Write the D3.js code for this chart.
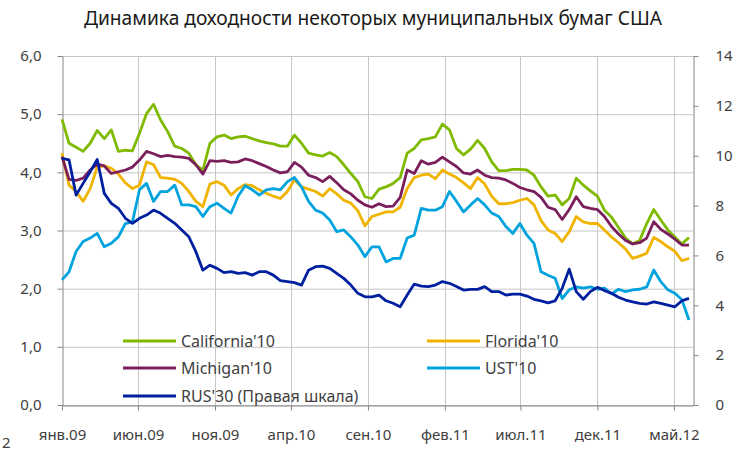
<!DOCTYPE html>
<html>
<head>
<meta charset="utf-8">
<script src="https://cdn.jsdelivr.net/npm/d3@7"></script>
<style>
  body { margin: 0; background: #fff; }
  text { font-family: "Noto Sans", "Open Sans", sans-serif; fill: #404040; }
</style>
</head>
<body>
<div id="container"></div>
<script>
const width = 755,
  height = 454,
  margin = { top: 56, bottom: 49, left: 62, right: 62 }

// ДАННЫЕ (каждые 2 недели с 01.01.2009)
const california = [4.91,4.50,4.43,4.36,4.50,4.72,4.58,4.73,4.36,4.38,4.37,4.67,5.01,5.17,4.90,4.70,4.45,4.41,4.33,4.13,4.04,4.50,4.61,
  4.64,4.58,4.61,4.62,4.58,4.54,4.51,4.49,4.45,4.45,4.64,4.50,4.33,4.30,4.28,4.34,4.27,4.13,3.98,3.84,3.58,3.55,
  3.71,3.75,3.81,3.91,4.33,4.41,4.56,4.58,4.61,4.83,4.73,4.41,4.30,4.40,4.55,4.41,4.18,4.03,4.03,4.05,4.05,4.04,3.95,
  3.75,3.59,3.61,3.44,3.55,3.90,3.78,3.68,3.59,3.35,3.23,3.05,2.87,2.77,2.83,3.12,3.36,3.18,3.01,2.89,2.77,2.88]

const florida = [4.33,3.78,3.67,3.50,3.72,4.09,4.11,4.07,3.97,3.82,3.72,3.78,4.18,4.13,3.91,3.90,3.88,3.81,3.67,3.50,3.41,3.80,3.84,
  3.78,3.61,3.72,3.79,3.77,3.70,3.64,3.59,3.55,3.67,3.87,3.75,3.71,3.67,3.59,3.72,3.63,3.52,3.47,3.34,3.08,3.24,
  3.28,3.32,3.32,3.40,3.72,3.91,3.95,3.97,3.89,4.04,3.97,3.91,3.82,3.72,3.91,3.80,3.59,3.46,3.46,3.48,3.52,3.55,3.44,
  3.17,3.01,2.95,2.81,2.98,3.24,3.15,3.12,3.12,3.01,2.89,2.79,2.68,2.52,2.56,2.61,2.88,2.81,2.72,2.64,2.48,2.52]

const michigan = [4.27,3.88,3.86,3.90,4.04,4.14,4.11,3.98,4.01,4.04,4.09,4.21,4.36,4.32,4.27,4.29,4.27,4.26,4.24,4.13,3.97,4.20,4.19,
  4.20,4.17,4.18,4.23,4.20,4.15,4.10,4.04,3.99,4.01,4.17,4.09,3.95,3.91,3.84,3.93,3.82,3.70,3.63,3.52,3.44,3.40,
  3.46,3.41,3.42,3.57,4.04,3.98,4.20,4.14,4.17,4.26,4.18,4.10,3.99,3.97,4.04,3.95,3.91,3.90,3.87,3.81,3.74,3.70,3.67,
  3.57,3.40,3.36,3.19,3.36,3.58,3.41,3.38,3.36,3.24,3.07,2.94,2.83,2.77,2.79,2.87,3.15,3.02,2.94,2.85,2.75,2.75]

const ust = [2.15,2.29,2.64,2.81,2.87,2.95,2.72,2.78,2.89,3.12,3.15,3.70,3.81,3.50,3.67,3.67,3.78,3.44,3.44,3.41,3.24,3.41,3.47,
  3.38,3.30,3.59,3.77,3.70,3.61,3.70,3.72,3.70,3.84,3.91,3.75,3.50,3.35,3.30,3.18,2.98,3.01,2.89,2.75,2.55,2.72,
  2.72,2.46,2.52,2.52,2.87,2.92,3.38,3.35,3.35,3.41,3.67,3.50,3.32,3.44,3.55,3.44,3.30,3.24,3.07,2.95,3.12,2.92,2.78,
  2.29,2.23,2.18,1.83,1.98,2.03,2.01,2.03,1.99,2.01,1.91,1.99,1.95,1.98,1.99,2.03,2.32,2.12,1.98,1.92,1.81,1.46]

// правая шкала
const rus30 = [9.89,9.83,8.42,8.89,9.36,9.85,8.49,8.09,7.89,7.49,7.29,7.49,7.62,7.82,7.69,7.49,7.29,7.02,6.75,6.15,5.41,5.61,5.48,
  5.31,5.35,5.28,5.31,5.21,5.35,5.35,5.21,4.99,4.95,4.91,4.81,5.41,5.55,5.57,5.48,5.28,5.08,4.81,4.48,4.34,4.34,
  4.41,4.18,4.08,3.94,4.41,4.85,4.77,4.75,4.81,4.95,4.88,4.75,4.61,4.64,4.64,4.75,4.55,4.55,4.41,4.45,4.45,4.37,4.24,
  4.18,4.10,4.18,4.68,5.45,4.55,4.24,4.55,4.72,4.59,4.48,4.32,4.21,4.14,4.08,4.05,4.14,4.08,4.01,3.94,4.18,4.28]

const tickLabels = ["янв.09", "июн.09", "ноя.09", "апр.10", "сен.10", "фев.11", "июл.11", "дек.11", "май.12"]
const seriesNames = ["California'10", "Florida'10", "Michigan'10", "UST'10", "RUS'30 (Правая шкала)"]
const colors = ["#7fba00", "#f0b400", "#7a1f5c", "#00a3dd", "#00209f"]

const start = new Date(2009, 0, 1)
const dates = california.map((d, i) => d3.timeDay.offset(start, 14 * i))
const tickDates = tickLabels.map((d, i) => d3.timeMonth.offset(start, 5 * i))

const series = [california, florida, michigan, ust, rus30].map((vals, k) => ({
  name: seriesNames[k],
  color: colors[k],
  right: k === 4,
  values: vals.map((v, i) => ({ date: dates[i], value: v }))
}))

// SCALES
const xScale = d3.scaleTime()
  .domain([start, new Date(2012, 5, 8)])
  .range([margin.left, width - margin.right])

const yLeft = d3.scaleLinear()
  .domain([0, 6])
  .range([height - margin.bottom, margin.top])

const yRight = d3.scaleLinear()
  .domain([0, 14])
  .range([height - margin.bottom, margin.top])

const svg = d3.select("#container")
  .append("svg")
  .attr("width", width)
  .attr("height", height)

// title
svg.append("text")
  .attr("x", 373)
  .attr("y", 25)
  .attr("text-anchor", "middle")
  .attr("textLength", 578)
  .attr("lengthAdjust", "spacingAndGlyphs")
  .style("font-size", "19px")
  .style("fill", "#1a1a1a")
  .text("Динамика доходности некоторых муниципальных бумаг США")

// GRID
svg.append("g")
  .selectAll("line")
  .data(yLeft.ticks(6))
  .join("line")
  .attr("x1", margin.left)
  .attr("x2", width - margin.right)
  .attr("y1", d => yLeft(d) + 0.5)
  .attr("y2", d => yLeft(d) + 0.5)
  .attr("stroke", "#c6c6c6")

svg.append("g")
  .selectAll("line")
  .data(tickDates.slice(1))
  .join("line")
  .attr("x1", d => Math.round(xScale(d)) + 0.5)
  .attr("x2", d => Math.round(xScale(d)) + 0.5)
  .attr("y1", margin.top)
  .attr("y2", height - margin.bottom)
  .attr("stroke", "#c6c6c6")

// AXES
const fmt = d => d3.format(".1f")(d).replace(".", ",")

const leftAxis = svg.append("g")
  .attr("transform", `translate(${margin.left + 0.5},0)`)
  .call(d3.axisLeft(yLeft).ticks(6).tickFormat(fmt).tickSize(5).tickSizeOuter(0).tickPadding(16))

const rightAxis = svg.append("g")
  .attr("transform", `translate(${width - margin.right + 0.5},0)`)
  .call(d3.axisRight(yRight).tickValues(d3.range(0, 15, 2)).tickSize(5).tickSizeOuter(0).tickPadding(17))

const xAxis = svg.append("g")
  .attr("transform", `translate(0,${height - margin.bottom + 0.5})`)
  .call(d3.axisBottom(xScale).tickValues(tickDates).tickFormat((d, i) => tickLabels[i]).tickSize(5).tickSizeOuter(0).tickPadding(19))

;[leftAxis, rightAxis, xAxis].forEach(a => {
  a.select(".domain").attr("stroke", "#868686")
  a.selectAll(".tick line").attr("stroke", "#868686")
  a.selectAll(".tick text")
    .style("font-family", "\"Noto Sans\", sans-serif")
    .style("font-size", "15px")
    .attr("fill", "#404040")
})

// cut-off label at left edge
svg.append("text")
  .attr("x", 2)
  .attr("y", 448)
  .style("font-size", "15px")
  .text("2")

// LINES
const lineGen = d3.line()
  .x(d => xScale(d.date))

svg.selectAll(".line")
  .data(series)
  .join("path")
  .attr("class", "line")
  .attr("fill", "none")
  .attr("stroke", d => d.color)
  .attr("stroke-width", 2.8)
  .attr("stroke-linejoin", "round")
  .attr("d", d => lineGen.y(p => d.right ? yRight(p.value) : yLeft(p.value))(d.values))

// LEGEND
const legendPos = [[123, 341], [427, 341], [123, 368], [427, 368], [123, 396]]

const legend = svg.append("g")
  .selectAll("g")
  .data(series)
  .join("g")
  .attr("transform", (d, i) => `translate(${legendPos[i][0]},${legendPos[i][1]})`)

legend.append("line")
  .attr("x1", 0)
  .attr("x2", 53)
  .attr("stroke", d => d.color)
  .attr("stroke-width", 2.8)

legend.append("text")
  .attr("x", 58)
  .attr("y", 5.5)
  .style("font-size", "16px")
  .text(d => d.name)
</script>
</body>
</html>
